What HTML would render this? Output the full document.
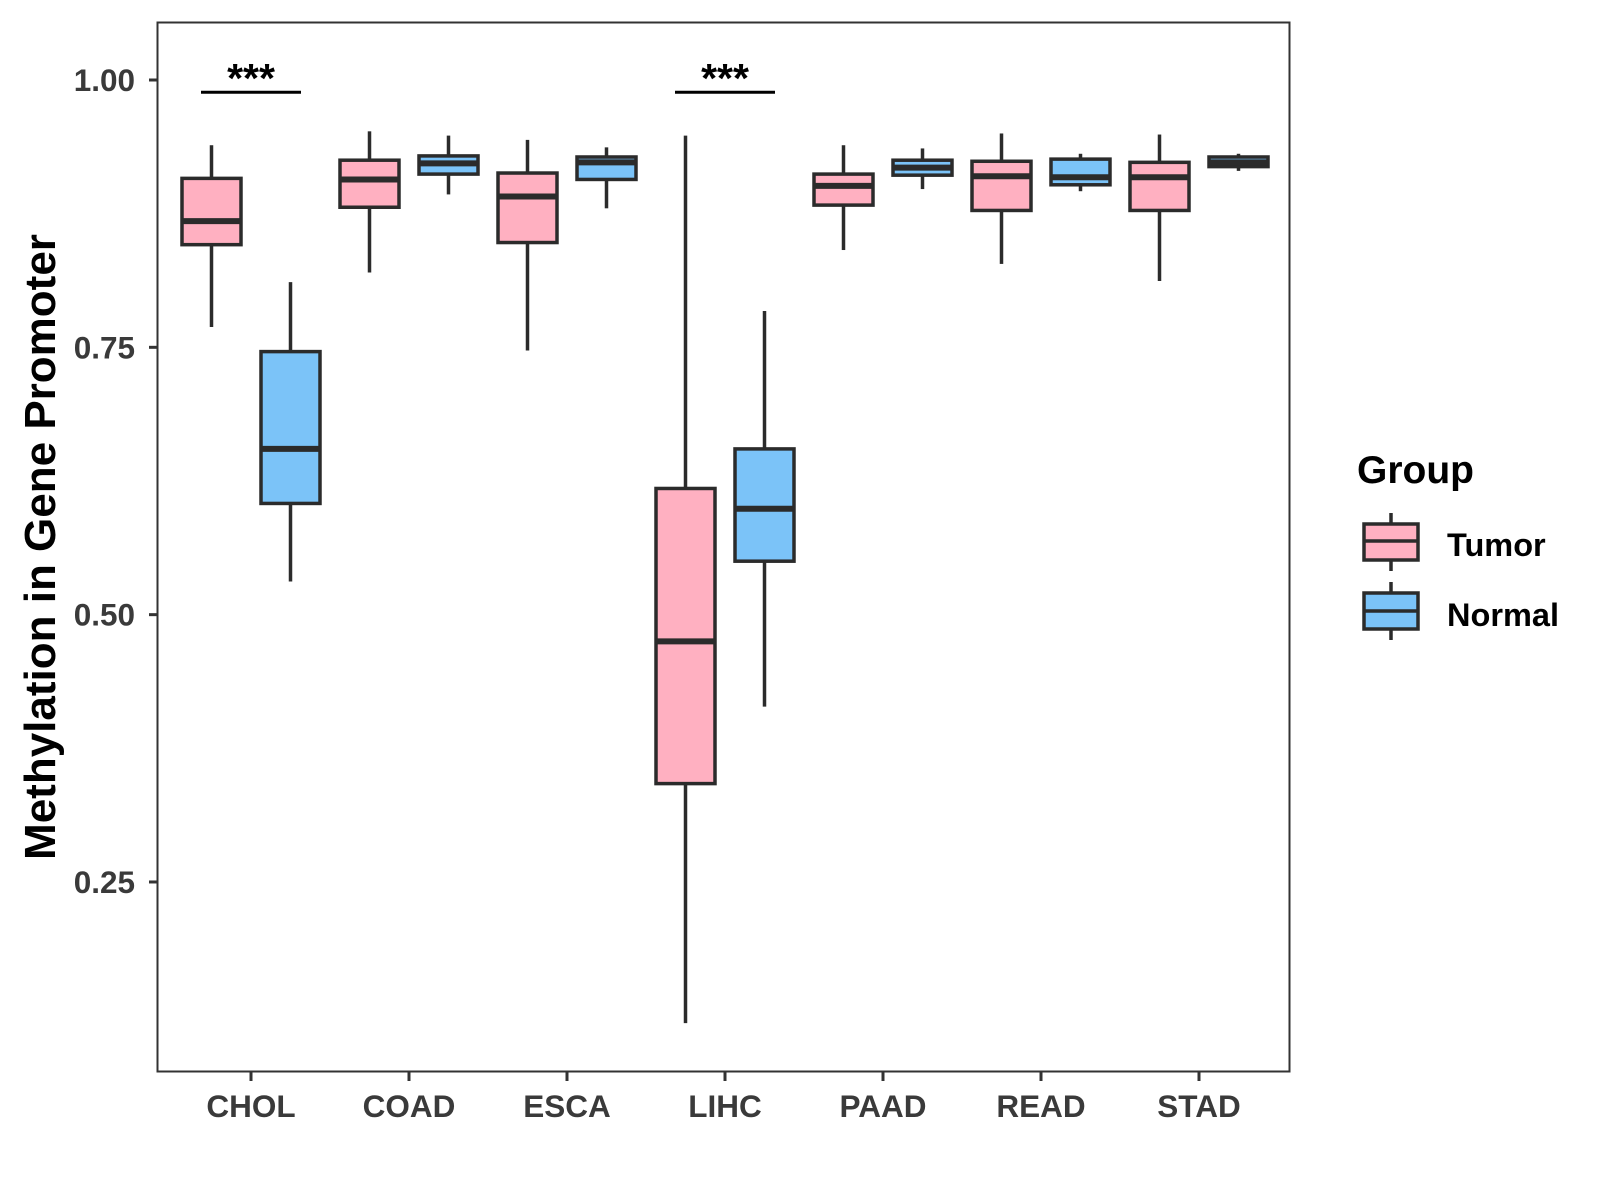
<!DOCTYPE html>
<html><head><meta charset="utf-8"><style>
html,body{margin:0;padding:0;background:#fff;}
svg{display:block;font-family:"Liberation Sans",Arial,sans-serif;}
</style></head><body>
<svg id="chart" width="1600" height="1200" viewBox="0 0 1600 1200">
<rect x="0" y="0" width="1600" height="1200" fill="#fff"/>
<g id="plot"></g>
<rect x="157.5" y="22.5" width="1132" height="1049" fill="none" stroke="#333" stroke-width="2"/>
<text transform="translate(55,547) rotate(-90)" text-anchor="middle" font-size="44" font-weight="bold" fill="#000">Methylation in Gene Promoter</text>
<g>
<text x="1357" y="483" font-size="39" font-weight="bold" fill="#000">Group</text>
<g>
<line x1="1391" y1="513" x2="1391" y2="571" stroke="#2b2b2b" stroke-width="3.5"/>
<rect x="1364" y="524" width="54" height="36" fill="#FFB0C1" stroke="#2b2b2b" stroke-width="3.5"/>
<line x1="1364" y1="541" x2="1418" y2="541" stroke="#2b2b2b" stroke-width="3.5"/>
<text x="1447" y="556" font-size="32.5" font-weight="bold" fill="#000">Tumor</text>
</g>
<g>
<line x1="1391" y1="582" x2="1391" y2="640" stroke="#2b2b2b" stroke-width="3.5"/>
<rect x="1364" y="593" width="54" height="36" fill="#7BC3F8" stroke="#2b2b2b" stroke-width="3.5"/>
<line x1="1364" y1="611" x2="1418" y2="611" stroke="#2b2b2b" stroke-width="3.5"/>
<text x="1447" y="626" font-size="32.5" font-weight="bold" fill="#000">Normal</text>
</g>
</g>
</svg>
<script>
const categories = ["CHOL","COAD","ESCA","LIHC","PAAD","READ","STAD"];
const yTicks = [0.25, 0.50, 0.75, 1.00];
const yTickLabels = ["0.25","0.50","0.75","1.00"];
// [low whisker, Q1, median, Q3, high whisker]
const tumorStats = [
  [0.769,0.846,0.868,0.908,0.939],
  [0.820,0.881,0.907,0.925,0.952],
  [0.747,0.848,0.891,0.913,0.944],
  [0.118,0.342,0.475,0.618,0.948],
  [0.841,0.883,0.901,0.912,0.939],
  [0.828,0.878,0.910,0.924,0.950],
  [0.812,0.878,0.909,0.923,0.949]
];
const normalStats = [
  [0.531,0.604,0.655,0.746,0.811],
  [0.893,0.912,0.922,0.929,0.948],
  [0.880,0.907,0.923,0.928,0.937],
  [0.414,0.550,0.599,0.655,0.784],
  [0.898,0.911,0.918,0.925,0.936],
  [0.896,0.902,0.909,0.926,0.931],
  [0.915,0.919,0.923,0.928,0.931]
];
const sigCategories = ["CHOL","LIHC"];
const sigLabels = ["***","***"];
const sigValue = 0.9886;

const NS="http://www.w3.org/2000/svg";
const g=document.getElementById('plot');
function yS(v){return 80+(1-v)*1069.3;}
function xS(i){return 251+158*i;}
function mk(tag,attrs,parent){const e=document.createElementNS(NS,tag);for(const k in attrs)e.setAttribute(k,attrs[k]);(parent||g).appendChild(e);return e;}

yTicks.forEach((t,i)=>{
  const tk=mk('line',{x1:149,x2:157,y1:yS(t),y2:yS(t),stroke:'#333','stroke-width':3});
  
  
  const lb=mk('text',{x:135,y:yS(t)+11,'text-anchor':'end','font-size':31.5,'font-weight':'bold',fill:'#3a3a3a'});
  lb.textContent=yTickLabels[i];
  
  
});
categories.forEach((c,i)=>{
  const tk=mk('line',{x1:xS(i),x2:xS(i),y1:1072,y2:1081,stroke:'#333','stroke-width':3});
  
  
  const lb=mk('text',{x:xS(i),y:1117,'text-anchor':'middle','font-size':31.5,'font-weight':'bold',fill:'#3a3a3a'});
  lb.textContent=c;
  
  
});
function box(cx,s,fill,name){
  const grp=mk('g',{});
  
  
  const hw=29.5;
  mk('line',{x1:cx,x2:cx,y1:yS(s[4]),y2:yS(s[3]),stroke:'#2b2b2b','stroke-width':3.5},grp);
  mk('line',{x1:cx,x2:cx,y1:yS(s[1]),y2:yS(s[0]),stroke:'#2b2b2b','stroke-width':3.5},grp);
  mk('rect',{x:cx-hw,y:yS(s[3]),width:hw*2,height:Math.max(0.5,yS(s[1])-yS(s[3])),fill:fill,stroke:'#2b2b2b','stroke-width':3.5},grp);
  mk('line',{x1:cx-hw,x2:cx+hw,y1:yS(s[2]),y2:yS(s[2]),stroke:'#2b2b2b','stroke-width':6},grp);
}
categories.forEach((c,i)=>{
  box(xS(i)-39.5,tumorStats[i],'#FFB0C1','box-'+c.toLowerCase()+'-tumor');
  box(xS(i)+39.5,normalStats[i],'#7BC3F8','box-'+c.toLowerCase()+'-normal');
});
sigCategories.forEach((c,k)=>{
  const i=categories.indexOf(c);
  const ln=mk('line',{x1:xS(i)-50,x2:xS(i)+50,y1:yS(sigValue),y2:yS(sigValue),stroke:'#000','stroke-width':3});
  
  
  const t=mk('text',{x:xS(i),y:yS(sigValue)+0,'text-anchor':'middle','font-size':41,'font-weight':'bold',fill:'#000'});
  t.textContent=sigLabels[k];
  
  
});
</script>
</body></html>
